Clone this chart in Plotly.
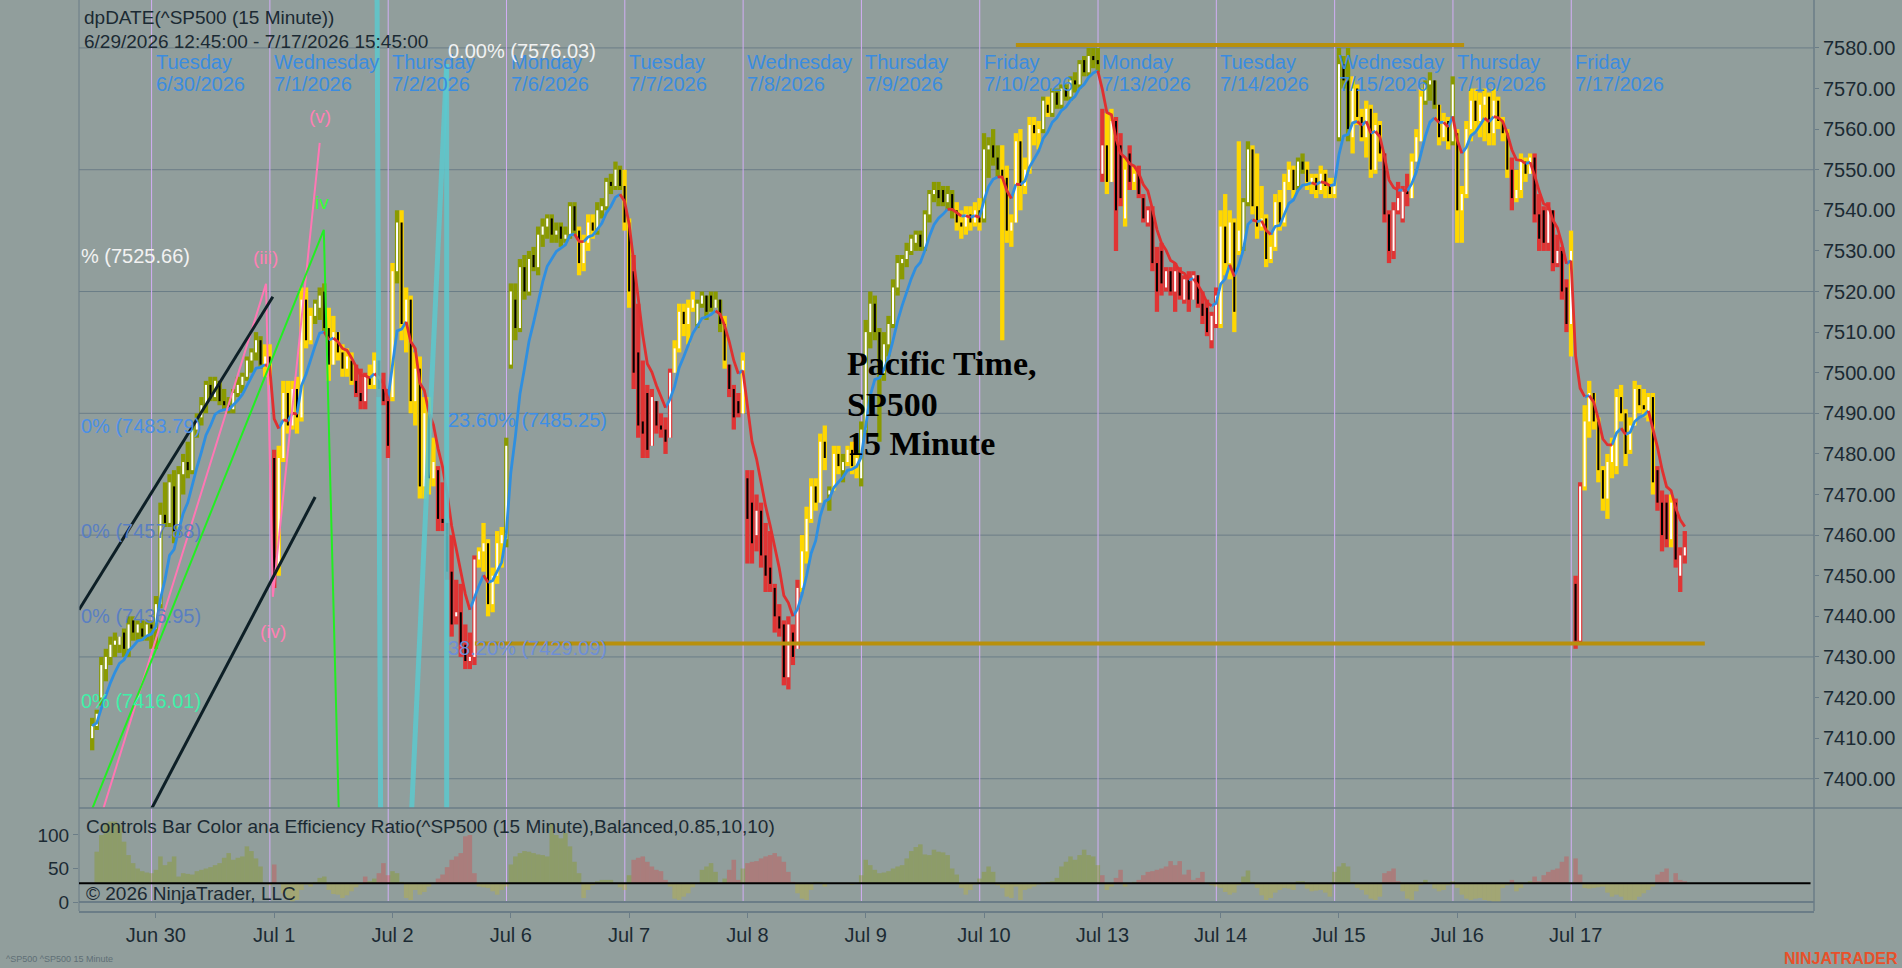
import plotly.graph_objects as go

BG = '#919e9c'
GRID = '#6b7d87'
INK = '#1b2a33'
SANS = 'Liberation Sans, Arial, sans-serif'

# ---- sessions (bar index of the first 15-minute bar of each day) ----
day_first_bar = [14, 40, 66, 92, 118, 144, 170, 196, 222, 248, 274, 300, 326]
day_names = ['Tuesday', 'Wednesday', 'Thursday', 'Monday', 'Tuesday', 'Wednesday',
             'Thursday', 'Friday', 'Monday', 'Tuesday', 'Wednesday', 'Thursday', 'Friday']
day_dates = ['6/30/2026', '7/1/2026', '7/2/2026', '7/6/2026', '7/7/2026', '7/8/2026',
             '7/9/2026', '7/10/2026', '7/13/2026', '7/14/2026', '7/15/2026', '7/16/2026', '7/17/2026']
day_ticks = ['Jun 30', 'Jul 1', 'Jul 2', 'Jul 6', 'Jul 7', 'Jul 8', 'Jul 9',
             'Jul 10', 'Jul 13', 'Jul 14', 'Jul 15', 'Jul 16', 'Jul 17']

price_ticks = [7400, 7410, 7420, 7430, 7440, 7450, 7460, 7470, 7480, 7490,
               7500, 7510, 7520, 7530, 7540, 7550, 7560, 7570, 7580]
grid_levels = [7400, 7430, 7460, 7490, 7520, 7550, 7580]
er_ticks = [0, 50, 100]
er_level = 28

# ---- ^SP500 15 minute bars, one list per field, one row per session ----
opens = (
    [7410, 7413, 7420, 7427, 7430, 7433, 7433, 7436, 7432, 7439, 7436, 7437, 7435, 7438] +
    [7437, 7443, 7465, 7463, 7472, 7461, 7475, 7478, 7476, 7486, 7489, 7492, 7497, 7494, 7498, 7493, 7492, 7491, 7495, 7497, 7499, 7503, 7505, 7508, 7502, 7504] +
    [7479, 7452, 7479, 7495, 7487, 7496, 7489, 7518, 7508, 7514, 7516, 7520, 7511, 7502, 7510, 7505, 7501, 7503, 7498, 7495, 7493, 7499, 7497, 7503, 7496, 7493] +
    [7494, 7525, 7537, 7512, 7518, 7493, 7501, 7472, 7490, 7474, 7476, 7464, 7463, 7451, 7440, 7441, 7433, 7429, 7430, 7454, 7456, 7458, 7443, 7450, 7458, 7459] +
    [7502, 7518, 7511, 7526, 7520, 7529, 7526, 7534, 7536, 7538, 7534, 7536, 7533, 7534, 7541, 7535, 7527, 7532, 7537, 7535, 7540, 7541, 7547, 7546, 7550, 7546] +
    [7537, 7525, 7505, 7488, 7495, 7482, 7493, 7487, 7486, 7484, 7500, 7506, 7515, 7512, 7516, 7512, 7517, 7519, 7519, 7516, 7518, 7512, 7502, 7496, 7493, 7490] +
    [7474, 7468, 7460, 7466, 7455, 7452, 7447, 7440, 7438, 7425, 7436, 7432, 7447, 7456, 7464, 7472, 7468, 7483, 7470, 7471, 7480, 7476, 7478, 7481, 7477, 7474] +
    [7486, 7510, 7517, 7510, 7500, 7507, 7512, 7521, 7527, 7528, 7530, 7532, 7534, 7531, 7539, 7544, 7545, 7545, 7542, 7544, 7540, 7537, 7536, 7539, 7537, 7540] +
    [7538, 7555, 7556, 7553, 7550, 7548, 7535, 7537, 7557, 7546, 7550, 7561, 7559, 7560, 7566, 7564, 7569, 7566, 7570, 7568, 7572, 7571, 7577, 7574, 7578, 7577] +
    [7549, 7556, 7547, 7562, 7556, 7538, 7554, 7547, 7549, 7543, 7537, 7540, 7527, 7530, 7521, 7525, 7520, 7525, 7518, 7523, 7518, 7524, 7517, 7516, 7508, 7512] +
    [7512, 7536, 7527, 7537, 7530, 7531, 7542, 7555, 7541, 7536, 7538, 7528, 7531, 7542, 7537, 7547, 7550, 7546, 7552, 7550, 7547, 7548, 7545, 7549, 7546, 7544] +
    [7558, 7576, 7572, 7558, 7570, 7563, 7558, 7565, 7550, 7561, 7554, 7539, 7530, 7540, 7538, 7545, 7543, 7552, 7557, 7567, 7571, 7572, 7566, 7558, 7562, 7557] +
    [7559, 7540, 7544, 7560, 7567, 7562, 7566, 7568, 7559, 7567, 7562, 7559, 7550, 7543, 7545, 7552, 7549, 7553, 7539, 7540, 7532, 7540, 7527, 7530, 7521, 7512] +
    [7448, 7434, 7472, 7488, 7495, 7488, 7476, 7469, 7478, 7477, 7494, 7490, 7481, 7487, 7496, 7492, 7490, 7494, 7476, 7468, 7468, 7459, 7468, 7450, 7455]
)
highs = (
    [7415, 7417, 7430, 7432, 7435, 7436, 7435, 7437, 7440, 7440, 7439, 7439, 7439, 7439] +
    [7445, 7468, 7473, 7475, 7476, 7477, 7480, 7483, 7487, 7490, 7494, 7498, 7499, 7499, 7498, 7496, 7494, 7496, 7499, 7500, 7504, 7506, 7510, 7509, 7507, 7507] +
    [7481, 7482, 7498, 7498, 7498, 7499, 7521, 7521, 7516, 7518, 7521, 7522, 7516, 7514, 7510, 7507, 7506, 7505, 7502, 7501, 7500, 7502, 7505, 7503, 7500, 7496] +
    [7527, 7540, 7540, 7521, 7519, 7505, 7504, 7494, 7494, 7484, 7477, 7473, 7463, 7460, 7449, 7448, 7438, 7436, 7455, 7457, 7463, 7459, 7452, 7461, 7462, 7484] +
    [7522, 7522, 7528, 7529, 7530, 7531, 7536, 7538, 7539, 7539, 7537, 7537, 7536, 7542, 7542, 7536, 7534, 7539, 7539, 7542, 7543, 7548, 7549, 7552, 7551, 7550] +
    [7538, 7529, 7517, 7503, 7497, 7496, 7493, 7490, 7489, 7501, 7508, 7517, 7517, 7518, 7520, 7518, 7520, 7519, 7520, 7520, 7518, 7514, 7502, 7497, 7495, 7505] +
    [7476, 7476, 7470, 7468, 7463, 7461, 7448, 7443, 7439, 7440, 7438, 7449, 7460, 7467, 7474, 7474, 7485, 7487, 7472, 7482, 7482, 7480, 7482, 7483, 7481, 7488] +
    [7513, 7520, 7519, 7511, 7510, 7514, 7523, 7529, 7529, 7532, 7534, 7535, 7535, 7540, 7545, 7547, 7547, 7546, 7546, 7545, 7542, 7540, 7541, 7541, 7542, 7543] +
    [7559, 7558, 7560, 7556, 7556, 7551, 7539, 7559, 7560, 7553, 7563, 7563, 7562, 7568, 7568, 7570, 7570, 7571, 7571, 7573, 7574, 7577, 7578, 7580, 7580, 7580] +
    [7565, 7564, 7565, 7563, 7559, 7553, 7556, 7551, 7551, 7544, 7541, 7541, 7531, 7532, 7526, 7526, 7527, 7526, 7524, 7525, 7525, 7524, 7520, 7518, 7515, 7521] +
    [7540, 7544, 7540, 7538, 7557, 7543, 7557, 7556, 7554, 7546, 7539, 7534, 7544, 7545, 7549, 7552, 7551, 7553, 7554, 7552, 7549, 7549, 7551, 7550, 7548, 7548] +
    [7580, 7578, 7580, 7573, 7571, 7565, 7567, 7566, 7564, 7562, 7554, 7540, 7542, 7547, 7546, 7549, 7554, 7560, 7570, 7572, 7574, 7572, 7566, 7564, 7563, 7573] +
    [7560, 7546, 7562, 7570, 7570, 7569, 7570, 7569, 7570, 7568, 7563, 7560, 7553, 7550, 7554, 7553, 7554, 7554, 7544, 7541, 7542, 7540, 7534, 7531, 7523, 7535] +
    [7450, 7473, 7492, 7498, 7495, 7489, 7477, 7480, 7484, 7496, 7497, 7491, 7489, 7498, 7497, 7496, 7495, 7495, 7477, 7471, 7470, 7470, 7469, 7457, 7461]
)
lows = (
    [7407, 7412, 7418, 7424, 7428, 7430, 7431, 7430, 7430, 7434, 7434, 7434, 7434, 7432] +
    [7432, 7442, 7462, 7462, 7458, 7460, 7470, 7474, 7475, 7484, 7487, 7490, 7493, 7493, 7492, 7491, 7490, 7490, 7494, 7495, 7498, 7500, 7503, 7501, 7499, 7497] +
    [7447, 7450, 7478, 7485, 7486, 7485, 7488, 7506, 7507, 7512, 7513, 7510, 7498, 7502, 7503, 7499, 7499, 7497, 7494, 7491, 7491, 7496, 7496, 7494, 7492, 7479] +
    [7493, 7522, 7508, 7505, 7490, 7487, 7469, 7469, 7470, 7472, 7461, 7461, 7449, 7435, 7438, 7430, 7427, 7427, 7428, 7452, 7451, 7440, 7441, 7448, 7452, 7457] +
    [7501, 7508, 7510, 7518, 7519, 7525, 7524, 7531, 7533, 7532, 7532, 7531, 7532, 7533, 7534, 7524, 7525, 7530, 7533, 7534, 7538, 7540, 7544, 7545, 7545, 7535] +
    [7516, 7496, 7484, 7479, 7479, 7482, 7485, 7484, 7480, 7484, 7500, 7505, 7509, 7507, 7515, 7511, 7516, 7513, 7515, 7516, 7510, 7501, 7494, 7486, 7489, 7490] +
    [7453, 7453, 7456, 7452, 7446, 7446, 7436, 7435, 7423, 7422, 7428, 7432, 7446, 7453, 7463, 7466, 7468, 7476, 7466, 7471, 7475, 7473, 7477, 7475, 7474, 7472] +
    [7485, 7506, 7508, 7483, 7498, 7504, 7511, 7519, 7523, 7526, 7529, 7530, 7530, 7530, 7537, 7542, 7541, 7541, 7540, 7538, 7535, 7533, 7534, 7535, 7536, 7535] +
    [7537, 7548, 7551, 7548, 7508, 7532, 7531, 7537, 7540, 7544, 7549, 7556, 7555, 7559, 7563, 7563, 7565, 7565, 7567, 7567, 7569, 7570, 7573, 7573, 7575, 7574] +
    [7547, 7544, 7547, 7530, 7541, 7536, 7545, 7545, 7543, 7537, 7536, 7525, 7515, 7519, 7520, 7519, 7515, 7518, 7517, 7515, 7518, 7516, 7512, 7509, 7506, 7511] +
    [7511, 7524, 7523, 7510, 7529, 7530, 7541, 7539, 7533, 7535, 7526, 7527, 7530, 7535, 7536, 7545, 7543, 7545, 7549, 7545, 7544, 7543, 7544, 7543, 7543, 7543] +
    [7557, 7570, 7557, 7554, 7561, 7557, 7553, 7548, 7549, 7552, 7537, 7527, 7528, 7539, 7537, 7541, 7543, 7552, 7557, 7566, 7567, 7565, 7556, 7557, 7555, 7556] +
    [7532, 7532, 7543, 7557, 7559, 7558, 7557, 7556, 7556, 7560, 7557, 7548, 7540, 7542, 7543, 7547, 7549, 7537, 7530, 7530, 7530, 7525, 7526, 7518, 7510, 7504] +
    [7432, 7433, 7471, 7484, 7486, 7473, 7466, 7464, 7474, 7475, 7488, 7477, 7480, 7487, 7490, 7489, 7488, 7470, 7466, 7456, 7457, 7457, 7452, 7446, 7453]
)
closes = (
    [7413, 7416, 7428, 7430, 7433, 7434, 7435, 7432, 7438, 7436, 7438, 7435, 7438, 7437] +
    [7443, 7465, 7463, 7473, 7461, 7475, 7478, 7476, 7486, 7489, 7492, 7497, 7494, 7498, 7493, 7492, 7491, 7495, 7497, 7499, 7503, 7505, 7508, 7502, 7504, 7500] +
    [7450, 7479, 7495, 7487, 7496, 7489, 7518, 7508, 7514, 7517, 7519, 7511, 7502, 7510, 7505, 7501, 7504, 7498, 7495, 7493, 7499, 7497, 7503, 7496, 7493, 7482] +
    [7525, 7537, 7512, 7518, 7493, 7501, 7472, 7490, 7474, 7478, 7464, 7463, 7451, 7438, 7441, 7433, 7429, 7430, 7454, 7456, 7458, 7443, 7450, 7458, 7460, 7482] +
    [7520, 7511, 7526, 7520, 7528, 7526, 7534, 7536, 7538, 7534, 7535, 7533, 7534, 7541, 7535, 7527, 7532, 7537, 7535, 7540, 7541, 7547, 7546, 7550, 7546, 7537] +
    [7520, 7500, 7487, 7485, 7481, 7494, 7487, 7486, 7483, 7500, 7506, 7515, 7512, 7516, 7518, 7517, 7519, 7515, 7516, 7518, 7512, 7503, 7496, 7489, 7490, 7503] +
    [7464, 7458, 7466, 7455, 7450, 7448, 7440, 7437, 7425, 7438, 7430, 7447, 7456, 7464, 7472, 7468, 7483, 7479, 7471, 7480, 7477, 7478, 7481, 7477, 7479, 7486] +
    [7510, 7517, 7510, 7500, 7507, 7512, 7521, 7527, 7528, 7530, 7533, 7534, 7531, 7539, 7544, 7545, 7543, 7542, 7544, 7540, 7537, 7536, 7539, 7537, 7540, 7537] +
    [7555, 7556, 7553, 7550, 7548, 7535, 7537, 7557, 7546, 7550, 7561, 7559, 7560, 7567, 7564, 7569, 7566, 7570, 7568, 7572, 7571, 7576, 7574, 7578, 7577, 7576] +
    [7556, 7547, 7562, 7540, 7543, 7550, 7547, 7549, 7544, 7538, 7540, 7527, 7520, 7522, 7525, 7520, 7525, 7519, 7523, 7518, 7524, 7517, 7514, 7510, 7514, 7519] +
    [7536, 7527, 7537, 7515, 7535, 7542, 7555, 7541, 7536, 7538, 7528, 7531, 7542, 7537, 7547, 7550, 7545, 7552, 7550, 7547, 7548, 7545, 7549, 7546, 7544, 7547] +
    [7576, 7572, 7560, 7570, 7563, 7558, 7565, 7550, 7561, 7554, 7539, 7530, 7540, 7543, 7545, 7544, 7552, 7558, 7568, 7571, 7572, 7566, 7558, 7562, 7557, 7571] +
    [7540, 7544, 7560, 7567, 7562, 7566, 7568, 7559, 7567, 7562, 7559, 7550, 7543, 7545, 7552, 7549, 7553, 7539, 7533, 7532, 7540, 7527, 7530, 7520, 7512, 7530] +
    [7434, 7472, 7488, 7495, 7488, 7476, 7469, 7478, 7482, 7494, 7490, 7480, 7487, 7496, 7492, 7491, 7494, 7473, 7468, 7460, 7459, 7468, 7454, 7455, 7457]
)
# bar colour state per bar: u = up trend (olive), n = neutral (gold), d = down trend (red)
states = (
    'uuuuuuuuuuuuuu' +
    'uuuuuuuuuuuuuuuuuuuuuuuunn' +
    'dnnnnnnnnuuunnnnnndddnnddd' +
    'nunnnnnnnndddddddddnnnnnnu' +
    'uuuuuuuuuuuuuuunnnnuuuuuun' +
    'ndddddddddnnnnnuuuuuundddn' +
    'ddddddddddddnnnnnnunnunnnu' +
    'uuuuuuuuuuuuuuuuuuuunnnnnn' +
    'uuuunnnnnnnnnunuuuuuuuuuuu' +
    'dnnddndnddddddddddddddddddn' [:26] +
    'nnnnnuunnnnnnnnnnuunnnnnnn' +
    'uuunnnnnnnddddddnnnuuunnnu' +
    'nnnnnnnnnnnndnnnnddddddddn' +
    'ddnnnnnnnnnnnnnnnndddnddd'
)
# efficiency ratio panel values per bar
er = (
    [28, 75, 100, 118, 120, 120, 115, 90, 70, 58, 50, 46, 44, 43] +
    [48, 68, 55, 60, 68, 38, 43, 42, 41, 46, 48, 50, 52, 55, 58, 66, 73, 63, 66, 68, 83, 76, 65, 53, 28, 25] +
    [56, 28, 13, 5, 1, 3, 18, 26, 23, 30, 36, 38, 18, 12, 11, 6, 10, 16, 22, 26, 38, 31, 35, 43, 58, 40] +
    [46, 43, 30, 6, 3, 18, 11, 15, 23, 28, 35, 41, 52, 63, 68, 73, 98, 100, 43, 23, 22, 21, 16, 11, 18, 23] +
    [56, 68, 73, 76, 75, 73, 71, 70, 68, 118, 100, 95, 103, 83, 60, 43, 6, 18, 25, 31, 33, 33, 33, 28, 22, 18] +
    [40, 63, 66, 68, 60, 53, 48, 46, 33, 23, 5, 3, 8, 13, 22, 28, 48, 53, 58, 45, 28, 35, 48, 63, 33, 50] +
    [58, 60, 61, 65, 68, 70, 73, 68, 60, 45, 30, 13, 5, 3, 18, 30, 30, 23, 28, 28, 28, 28, 28, 26, 27, 40] +
    [63, 55, 48, 43, 44, 46, 50, 53, 55, 65, 76, 82, 86, 71, 70, 78, 75, 74, 70, 50, 41, 21, 11, 18, 26, 35] +
    [45, 53, 45, 25, 21, 8, 6, 23, 3, 18, 20, 23, 26, 28, 30, 31, 36, 53, 60, 68, 63, 70, 78, 70, 68, 55] +
    [40, 18, 23, 36, 48, 23, 28, 30, 33, 40, 45, 46, 48, 50, 53, 61, 55, 61, 41, 48, 33, 36, 45, 28, 25, 23] +
    [21, 15, 11, 14, 25, 38, 47, 30, 21, 10, 3, 6, 14, 18, 21, 20, 18, 31, 31, 20, 16, 17, 18, 14, 8, 45] +
    [53, 58, 53, 30, 21, 18, 11, 5, 3, 8, 43, 46, 50, 31, 16, 5, 3, 16, 25, 33, 28, 20, 16, 18, 25, 31] +
    [21, 11, 5, 3, 5, 6, 3, 2, 1, 1, 21, 25, 33, 16, 21, 28, 31, 38, 31, 40, 45, 48, 50, 60, 68, 28] +
    [65, 41, 21, 20, 21, 22, 23, 14, 8, 11, 8, 3, 3, 3, 8, 13, 18, 23, 41, 45, 50, 28, 43, 33, 31]
)

# ---- drawing objects (bar index, price) ----
fib_left = [('% (7525.66)', 7525.66, '#f2f2f2'), ('0% (7483.79)', 7483.79, '#4a8fe6'),
            ('0% (7457.88)', 7457.88, '#5a7fc2'), ('0% (7436.95)', 7436.95, '#5a7fc2'),
            ('0% (7416.01)', 7416.01, '#3ff0a8')]
fib_mid_bar = 77.7
fib_mid = [('0.00% (7576.03)', 7576.03, '#f2f2f2'), ('23.60% (7485.25)', 7485.25, '#3d8ee6'),
           ('38.20% (7429.09)', 7429.09, '#6f8fd6')]
wave_labels = [('(iii)', 38.0, 7528.3, '#ff80b4'), ('(v)', 50.0, 7563.0, '#ff80b4'),
               ('iv', 50.5, 7542.0, '#33ff33'), ('(iv)', 39.7, 7436.2, '#ff80b4')]
pink_wave = ([1.0, 38.2, 39.7, 50.0], [7387.4, 7521.9, 7444.8, 7556.6])
green_wave = ([-1.85, 50.9, 54.3], [7387.4, 7535.2, 7387.4])
channel_lines = [([-2.9, 39.7], [7441.6, 7518.7]), ([10.6, 49.0], [7387.4, 7469.4])]
cyan_lines = [([62.6, 63.4], [7594.3, 7387.4]), ([70.0, 77.9], [7387.4, 7576.03]),
              ([77.9, 77.9], [7576.03, 7387.4])]
gold_levels = [([203.0, 301.5], 7580.7), ([84.1, 354.4], 7433.3)]
note_bar = 165.4
note_lines = ['Pacific Time,', 'SP500', '15 Minute']

n = len(closes)
xs = list(range(n))
state_col = {'u': '#8a9a00', 'n': '#ffd700', 'd': '#e03434'}

fig = go.Figure()

# candles: coloured high-low block with a white (up) or black (down) body inside
fig.add_trace(go.Bar(
    x=xs, y=[h - l for h, l in zip(highs, lows)], base=lows, width=0.95,
    marker=dict(color=[state_col[s] for s in states], line=dict(width=0)),
    hoverinfo='skip', showlegend=False))
fig.add_trace(go.Bar(
    x=xs, y=[max(abs(c - o), 0.5) for o, c in zip(opens, closes)],
    base=[min(o, c) for o, c in zip(opens, closes)], width=0.45,
    marker=dict(color=['#ffffff' if c >= o else '#000000' for o, c in zip(opens, closes)],
                line=dict(width=0)),
    hoverinfo='skip', showlegend=False))

# smoothed trend line on the closes, blue while rising, red while falling
ema = [closes[0]]
for c in closes[1:]:
    ema.append(ema[-1] + (c - ema[-1]) / 4)
runs = {'#2f8fe0': ([], []), '#e03030': ([], [])}
start = 0
cur = None
for i in range(1, n + 1):
    col = None if i == n else ('#2f8fe0' if ema[i] >= ema[i - 1] else '#e03030')
    if cur is None:
        cur = col
    if col != cur:
        rx, ry = runs[cur]
        rx.extend(xs[start:i] + [None])
        ry.extend(ema[start:i] + [None])
        start = i - 1
        cur = col
for col, (rx, ry) in runs.items():
    fig.add_trace(go.Scatter(x=rx, y=ry, mode='lines', line=dict(color=col, width=2.8),
                             hoverinfo='skip', showlegend=False))

# wave count, channel and fib lines
fig.add_trace(go.Scatter(x=pink_wave[0], y=pink_wave[1], mode='lines',
                         line=dict(color='#ff77b4', width=2), hoverinfo='skip', showlegend=False))
fig.add_trace(go.Scatter(x=green_wave[0], y=green_wave[1], mode='lines',
                         line=dict(color='#22ee22', width=2), hoverinfo='skip', showlegend=False))
for lx, ly in channel_lines:
    fig.add_trace(go.Scatter(x=lx, y=ly, mode='lines', line=dict(color='#0d1f26', width=3),
                             hoverinfo='skip', showlegend=False))
for lx, ly in cyan_lines:
    fig.add_trace(go.Scatter(x=lx, y=ly, mode='lines',
                             line=dict(color='rgba(92,200,206,0.85)', width=5),
                             hoverinfo='skip', showlegend=False))
for lx, lv in gold_levels:
    fig.add_trace(go.Scatter(x=lx, y=[lv, lv], mode='lines', line=dict(color='#b8900c', width=4),
                             hoverinfo='skip', showlegend=False))

# efficiency ratio panel
er_col = []
for s, v in zip(states, er):
    if v < er_level:
        er_col.append('rgba(200,185,30,0.32)')
    elif s == 'd':
        er_col.append('rgba(225,55,55,0.32)')
    else:
        er_col.append('rgba(135,152,10,0.34)')
fig.add_trace(go.Bar(x=xs, y=[v - er_level for v in er], base=er_level, width=1.0,
                     marker=dict(color=er_col, line=dict(width=0)),
                     xaxis='x2', yaxis='y2', hoverinfo='skip', showlegend=False))

split = 0.1131
shapes = []
for g in grid_levels:
    shapes.append(dict(type='line', xref='paper', yref='y', x0=0, x1=1, y0=g, y1=g,
                       line=dict(color=GRID, width=1), layer='below'))
for f in day_first_bar:
    shapes.append(dict(type='line', xref='x', yref='paper', x0=f - 0.95, x1=f - 0.95,
                       y0=0.01, y1=1, line=dict(color='#d2aef5', width=1), layer='below'))
shapes += [
    dict(type='line', xref='paper', yref='paper', x0=0, x1=1.051, y0=split, y1=split,
         line=dict(color=GRID, width=1.5)),
    dict(type='line', xref='paper', yref='paper', x0=0, x1=0, y0=0, y1=1,
         line=dict(color=GRID, width=1)),
    dict(type='line', xref='paper', yref='paper', x0=1, x1=1, y0=0, y1=1,
         line=dict(color=GRID, width=1.5)),
    dict(type='line', xref='paper', yref='y2', x0=0, x1=0.998, y0=er_level, y1=er_level,
         line=dict(color='#000000', width=2)),
]

ann = []


def text(x, y, s, size, color, xref='paper', yref='paper', xanchor='left', yanchor='middle',
         family=SANS):
    ann.append(dict(x=x, y=y, xref=xref, yref=yref, text=s, showarrow=False, xanchor=xanchor,
                    yanchor=yanchor, font=dict(family=family, size=size, color=color)))


text(0.0017, 1 - 17 / 911, 'dpDATE(^SP500 (15 Minute))', 19, INK)
text(0.0017, 1 - 42 / 911, '6/29/2026 12:45:00 - 7/17/2026 15:45:00', 19, INK)
for f, nm, dt in zip(day_first_bar, day_names, day_dates):
    text(f - 0.5, 1 - 62 / 911, nm, 20, '#3a8ce0', xref='x')
    text(f - 0.5, 1 - 84 / 911, dt, 20, '#3a8ce0', xref='x')
for s, lv, col in fib_left:
    text(0, lv, s, 20, col, yref='y', yanchor='bottom')
for s, lv, col in fib_mid:
    text(fib_mid_bar, lv, s, 20, col, xref='x', yref='y', yanchor='bottom')
for s, bx, lv, col in wave_labels:
    text(bx, lv, s, 19, col, xref='x', yref='y', xanchor='center')
for k, s in enumerate(note_lines):
    text(note_bar, 1 - (364 + 40 * k) / 911, '<b>' + s + '</b>', 34, '#000000', xref='x',
         family='Liberation Serif, Times New Roman, serif')
text(0.003, 1 - 826 / 911,
     'Controls Bar Color ana Efficiency Ratio(^SP500 (15 Minute),Balanced,0.85,10,10)', 19, INK)
text(0.003, 1 - 893 / 911, '© 2026 NinjaTrader, LLC', 19, INK)
text(-0.0432, -48 / 911, '^SP500 ^SP500 15 Minute', 9, '#5f6f76')
text(1.0496, -47 / 911, '<b>NINJATRADER</b>', 16, '#e8502a', xanchor='right')

x_range = [-2.9, 378.4]
fig.update_layout(
    width=1902, height=968,
    margin=dict(l=79, r=88, t=0, b=57),
    paper_bgcolor=BG, plot_bgcolor=BG,
    barmode='overlay',
    font=dict(family=SANS, color=INK),
    showlegend=False,
    xaxis=dict(domain=[0, 1], range=x_range, anchor='y', showticklabels=False,
               showgrid=False, zeroline=False, fixedrange=True),
    xaxis2=dict(domain=[0, 1], range=x_range, anchor='y2', matches='x',
                tickvals=day_first_bar, ticktext=day_ticks, ticks='outside', ticklen=5,
                tickcolor=GRID, showline=True, linecolor=GRID, linewidth=1.5,
                showgrid=False, zeroline=False, tickfont=dict(size=20, color=INK)),
    yaxis=dict(domain=[split, 1], range=[7392.8, 7591.8], side='right',
               tickvals=price_ticks, ticktext=['%.2f' % p for p in price_ticks],
               ticks='outside', ticklen=4, tickcolor=GRID, showgrid=False, zeroline=False,
               showline=False, tickfont=dict(size=20, color=INK)),
    yaxis2=dict(domain=[0, split], range=[-13.4, 140.3], side='left', tickvals=er_ticks,
                ticks='outside', ticklen=5, tickcolor=GRID, showgrid=False,
                zeroline=True, zerolinecolor=GRID, zerolinewidth=1.5, showline=False,
                tickfont=dict(size=19, color=INK)),
    shapes=shapes,
    annotations=ann,
)

# the page itself should carry no white frame around the figure
fig.write_html('out.html', config={'displayModeBar': False},
               post_script="document.body.style.margin='0';"
                           "document.body.style.background='" + BG + "';")
